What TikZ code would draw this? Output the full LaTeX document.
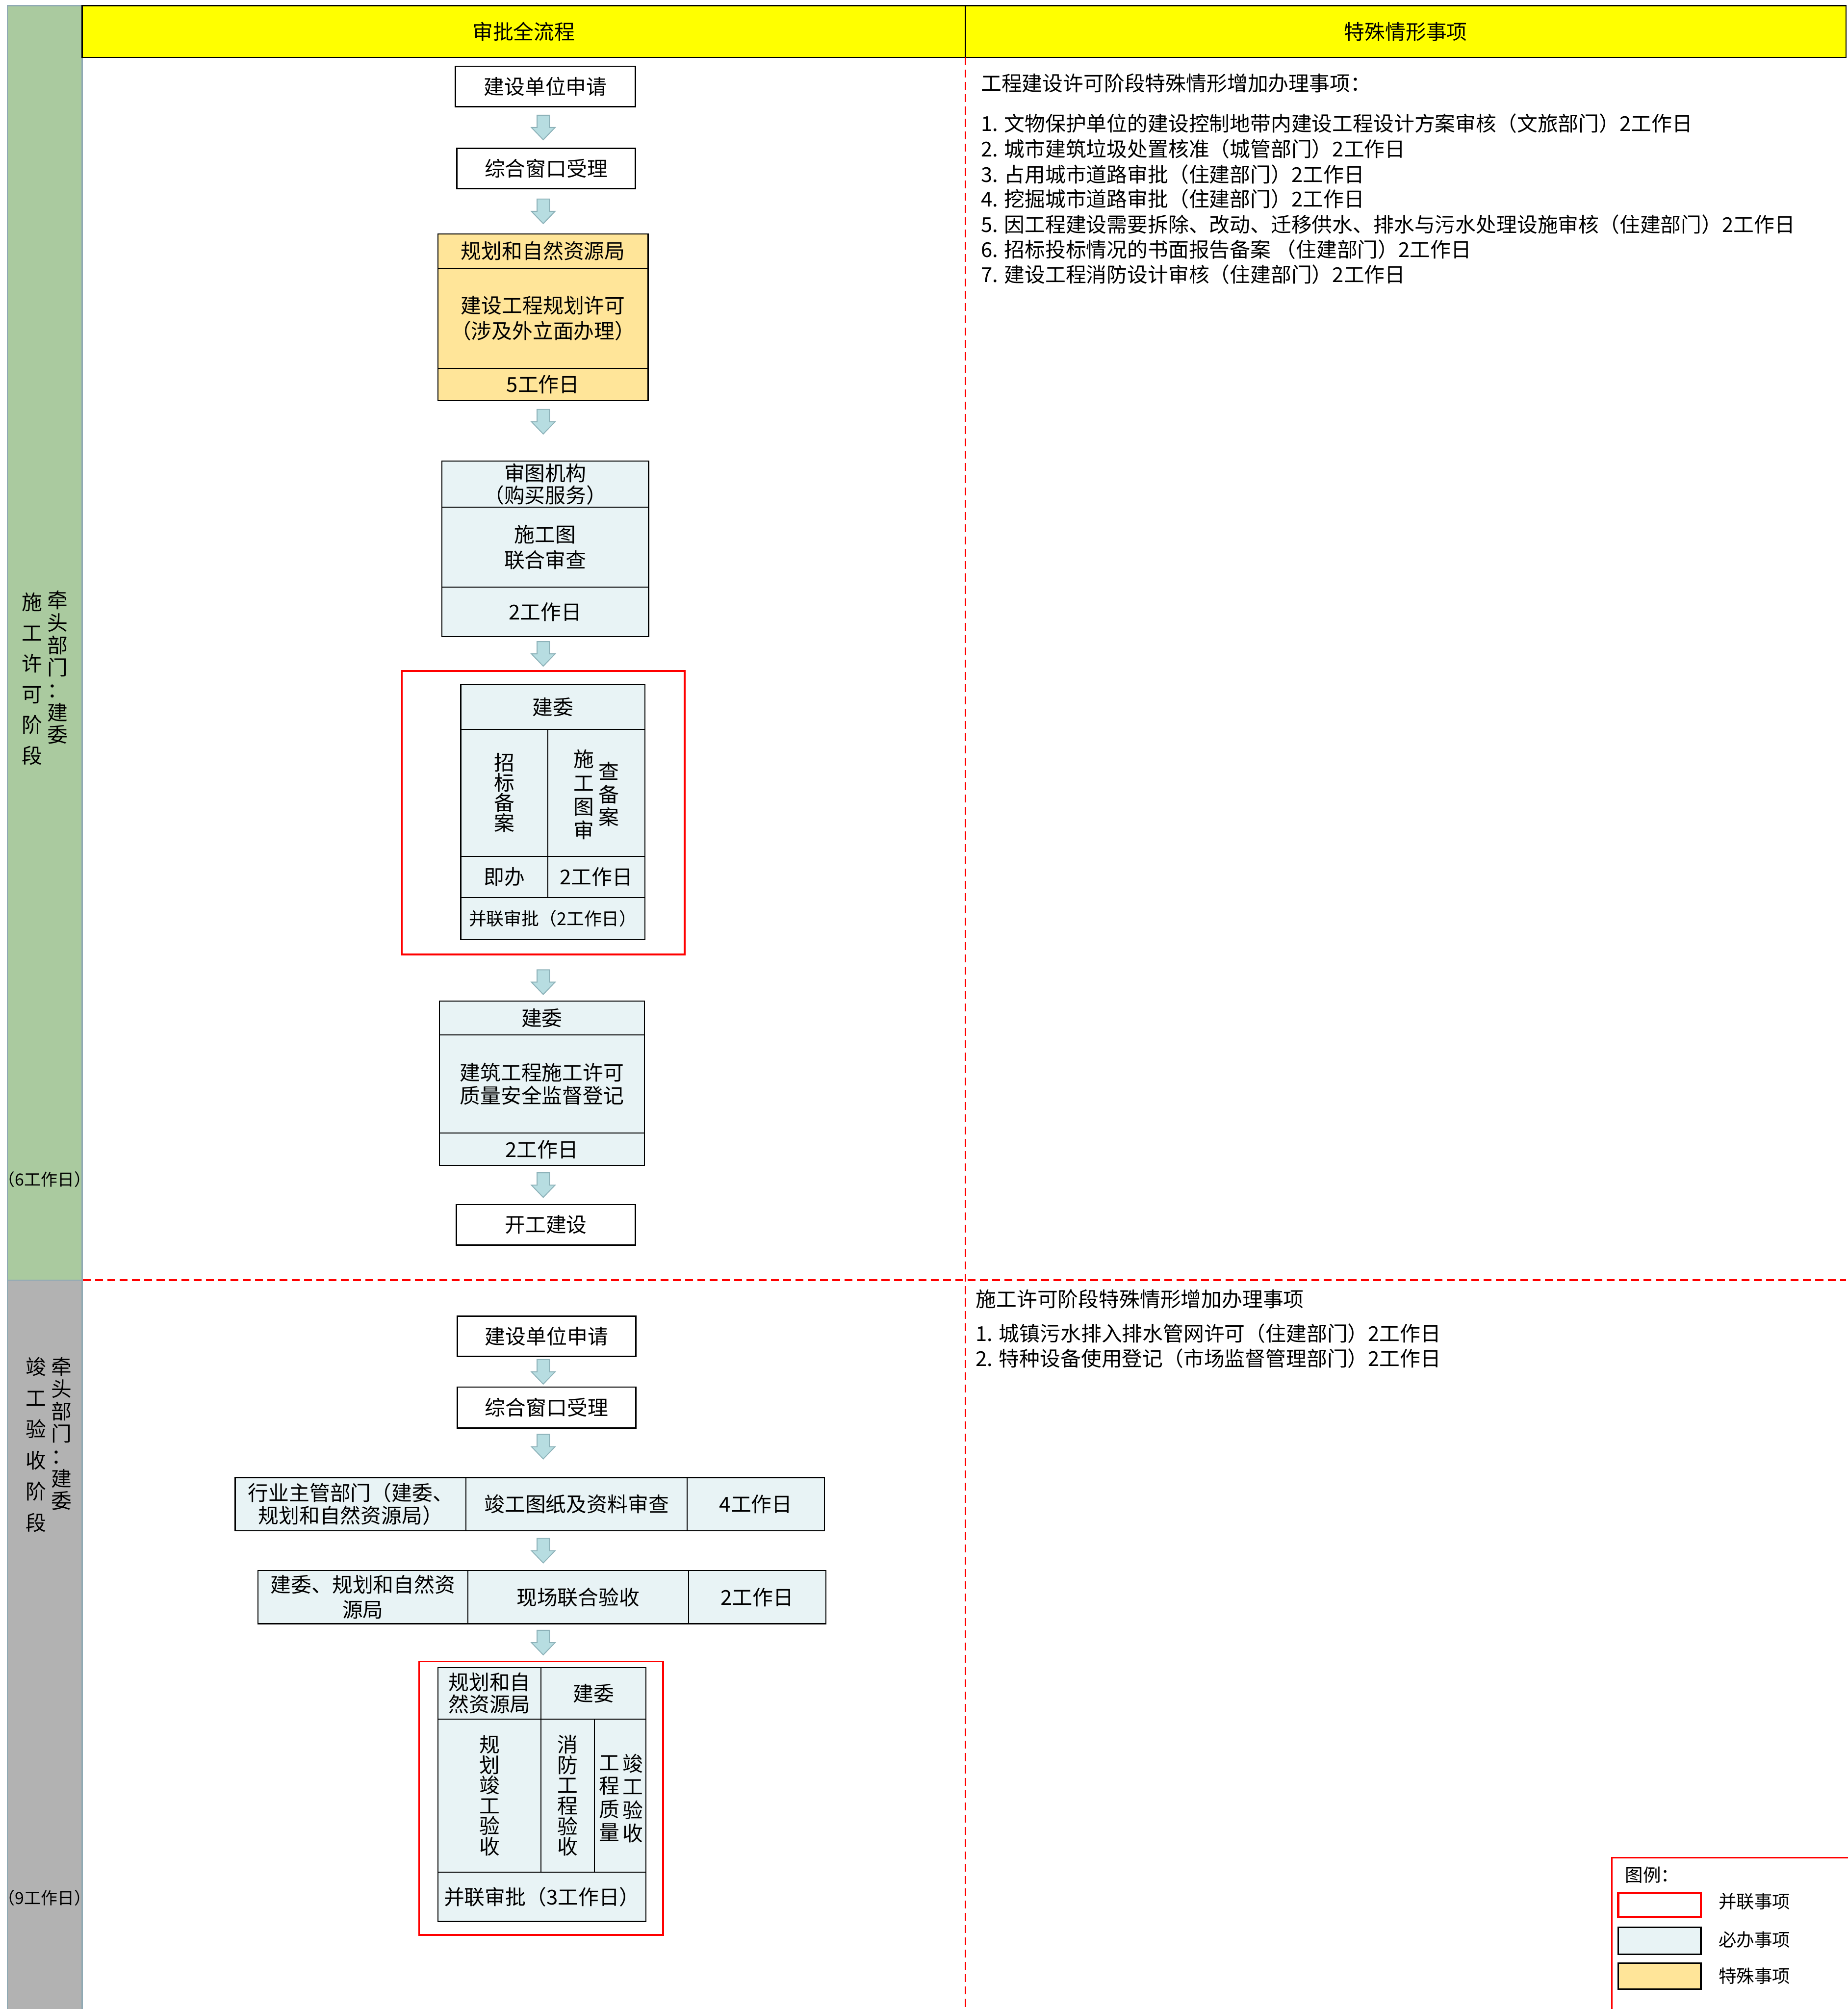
\documentclass[tikz,border=0pt]{standalone}
\usepackage{fontspec}
\setmainfont{Noto Sans CJK SC}
\usetikzlibrary{calc, positioning}

\definecolor{headyellow}{HTML}{FFFF00}
\definecolor{stagegreen}{HTML}{AACA9F}
\definecolor{stagegray}{HTML}{B2B2B2}
\definecolor{laneedge}{HTML}{8FA9B4}
\definecolor{mustblue}{HTML}{E8F3F5}
\definecolor{specialyellow}{HTML}{FFE599}
\definecolor{arrowfill}{HTML}{B7DDE1}
\definecolor{arrowline}{HTML}{8DB2B9}

\newcommand{\cnfont}[2]{\fontsize{#1}{#2}\selectfont\lineskiplimit=-20pt\relax}

\tikzset{
  box/.style={draw, line width=0.8pt, fill=white, inner sep=0pt, outer sep=0pt, align=center, minimum height=0.92cm, font=\cnfont{13.3pt}{16pt}},
  cell/.style={draw, line width=0.7pt, fill=mustblue, inner sep=0pt, outer sep=0pt, align=center, font=\cnfont{13.3pt}{16pt}},
  specialcell/.style={cell, fill=specialyellow},
  vtext/.style={inner sep=0pt, align=center},
  headcell/.style={draw, line width=0.8pt, fill=headyellow, inner sep=0pt, outer sep=0pt, minimum height=1.18cm, anchor=north west, font=\cnfont{13.3pt}{16pt}},
  parallel/.style={draw=red, line width=1.2pt, inner sep=0pt, outer sep=0pt},
  lanesep/.style={red, line width=1.1pt, dash pattern=on 0.18cm off 0.10cm},
  lanetext/.style={inner sep=0pt, align=center},
  note/.style={inner sep=0pt, anchor=west, font=\cnfont{13.3pt}{16pt}},
  flow/.style={fill=arrowfill, draw=arrowline, line width=0.6pt},
  legendtext/.style={inner sep=0pt, anchor=west, font=\cnfont{11.6pt}{14pt}},
}

% block arrow between two nodes, on the flow axis
\newcommand{\flowarrow}[3][0]{%
  \coordinate (gapmid) at ($(#2.south)!0.5!(#3.north)$);
  \coordinate (mid) at ($(axis |- gapmid)+(0,#1)$);
  \draw[flow] ($(mid)+(-0.14,-0.28)$) -- ($(mid)+(0.14,-0.28)$) -- ($(mid)+(0.14,0)$)
    -- ($(mid)+(0.27,0)$) -- ($(mid)+(0,0.28)$) -- ($(mid)+(-0.27,0)$)
    -- ($(mid)+(-0.14,0)$) -- cycle;}

\begin{document}
\begin{tikzpicture}[x=1cm, y=-1cm]
\useasboundingbox (0,0) rectangle (42.11,45.78);
\coordinate (axis) at (12.38,0);

% stage bars
\fill[stagegreen] (0.17,0.13) rectangle (1.87,29.17);
\fill[stagegray] (0.17,29.17) rectangle (1.87,45.78);
\draw[laneedge, line width=0.8pt] (0.17,45.78) -- (0.17,0.13) -- (1.87,0.13) -- (1.87,45.78);
\draw[laneedge, line width=0.8pt] (0.17,29.17) -- (1.87,29.17);

% column heads
\node[headcell, minimum width=20.13cm] (flowhead) at (1.87,0.13) {审批全流程};
\node[headcell, minimum width=20.07cm] (notehead) at (22.00,0.13) {特殊情形事项};
\draw[lanesep] (notehead.south west) -- (22.00,45.78);
\draw[lanesep] (1.89,29.17) -- (42.07,29.17);

% stage labels
\node[lanetext, font=\cnfont{13.3pt}{0.70cm}] (stageone) at (0.73,15.47) {施\\工\\许\\可\\阶\\段};
\node[lanetext, font=\cnfont{13.3pt}{0.51cm}] (leadone) at (1.31,15.21) {牵\\头\\部\\门\\：\\建\\委};
\node[lanetext, font=\cnfont{10.8pt}{12pt}] (daysone) at (1.02,26.88) {（6工作日）};
\node[lanetext, font=\cnfont{13.3pt}{0.71cm}] (stagetwo) at (0.82,32.92) {竣\\工\\验\\收\\阶\\段};
\node[lanetext, font=\cnfont{13.3pt}{0.51cm}] (leadtwo) at (1.40,32.67) {牵\\头\\部\\门\\：\\建\\委};
\node[lanetext, font=\cnfont{10.8pt}{12pt}] (daystwo) at (1.02,43.25) {（9工作日）};

% construction permit stage
\node[box, minimum width=4.10cm] (applyone) at (12.43,1.97) {建设单位申请};
\node[box, minimum width=4.07cm] (acceptone) at (12.445,3.84) {综合窗口受理};

\node[specialcell, minimum width=4.79cm, minimum height=0.78cm, anchor=north] (planorg) at (12.375,5.33) {规划和自然资源局};
\node[specialcell, minimum width=4.79cm, minimum height=2.28cm, below=0pt of planorg, font=\cnfont{13.3pt}{16.4pt}] (planitem) {建设工程规划许可\\（涉及外立面办理）};
\node[specialcell, minimum width=4.79cm, minimum height=0.74cm, below=0pt of planitem] (plandays) {5工作日};

\node[cell, minimum width=4.71cm, minimum height=1.05cm, anchor=north, font=\cnfont{13.3pt}{14.5pt}] (revorg) at (12.425,10.51) {审图机构\\（购买服务）};
\node[cell, minimum width=4.71cm, minimum height=1.82cm, below=0pt of revorg, font=\cnfont{13.3pt}{16.4pt}] (revitem) {施工图\\联合审查};
\node[cell, minimum width=4.71cm, minimum height=1.13cm, below=0pt of revitem] (revdays) {2工作日};

\node[parallel, minimum width=6.44cm, minimum height=6.46cm] (parone) at (12.38,18.52) {};
\node[cell, minimum width=4.20cm, minimum height=1.02cm, anchor=north] (jwone) at (12.60,15.60) {建委};
\node[cell, minimum width=1.98cm, minimum height=2.89cm, anchor=north west, font=\cnfont{13.3pt}{0.46cm}] (tender) at (jwone.south west) {招\\标\\备\\案};
\node[cell, minimum width=2.22cm, minimum height=2.89cm, anchor=north west] (drawing) at (tender.north east) {};
\node[vtext, font=\cnfont{13.3pt}{0.54cm}] (drawtxt) at (13.30,18.11) {施\\工\\图\\审};
\node[vtext, font=\cnfont{13.3pt}{0.52cm}] (filetxt) at (13.88,18.10) {查\\备\\案};
\node[cell, minimum width=1.98cm, minimum height=0.945cm, anchor=north west] (instant) at (tender.south west) {即办};
\node[cell, minimum width=2.22cm, minimum height=0.945cm, anchor=north west] (drawdays) at (instant.north east) {2工作日};
\node[cell, minimum width=4.20cm, minimum height=0.955cm, anchor=north west, font=\cnfont{11.4pt}{13pt}] (jointone) at (instant.south west) {并联审批（2工作日）};

\node[cell, minimum width=4.68cm, minimum height=0.77cm, anchor=north] (permitorg) at (12.35,22.81) {建委};
\node[cell, minimum width=4.68cm, minimum height=2.24cm, below=0pt of permitorg, font=\cnfont{13.3pt}{14.8pt}] (permititem) {建筑工程施工许可\\质量安全监督登记};
\node[cell, minimum width=4.68cm, minimum height=0.74cm, below=0pt of permititem] (permitdays) {2工作日};
\node[box, minimum width=4.08cm] (start) at (12.44,27.91) {开工建设};

\flowarrow{applyone}{acceptone}
\flowarrow{acceptone}{planorg}
\flowarrow[-0.21]{plandays}{revorg}
\flowarrow{revdays}{parone}
\flowarrow[0.1]{parone}{permitorg}
\flowarrow{permitdays}{start}

% completion acceptance stage
\node[box, minimum width=4.07cm] (applytwo) at (12.455,30.45) {建设单位申请};
\node[box, minimum width=4.07cm, minimum height=0.93cm] (accepttwo) at (12.455,32.075) {综合窗口受理};

\node[cell, minimum width=5.26cm, minimum height=1.21cm, anchor=north west, font=\cnfont{13.3pt}{14.8pt}] (orgone) at (5.36,33.67) {行业主管部门（建委、\\规划和自然资源局）};
\node[cell, minimum width=5.04cm, minimum height=1.21cm, anchor=north west] (drawcheck) at (orgone.north east) {竣工图纸及资料审查};
\node[cell, minimum width=3.13cm, minimum height=1.21cm, anchor=north west] (checkdays) at (drawcheck.north east) {4工作日};

\node[cell, minimum width=4.78cm, minimum height=1.21cm, anchor=north west, font=\cnfont{13.3pt}{16.2pt}] (orgtwo) at (5.88,35.79) {建委、规划和自然资\\源局};
\node[cell, minimum width=5.03cm, minimum height=1.21cm, anchor=north west] (sitecheck) at (orgtwo.north east) {现场联合验收};
\node[cell, minimum width=3.13cm, minimum height=1.21cm, anchor=north west] (sitedays) at (sitecheck.north east) {2工作日};

\node[parallel, minimum width=5.56cm, minimum height=6.23cm] (partwo) at (12.33,40.975) {};
\node[cell, minimum width=2.35cm, minimum height=1.17cm, anchor=north west, font=\cnfont{13.3pt}{14.5pt}] (planorgtwo) at (9.98,38.00) {规划和自\\然资源局};
\node[cell, minimum width=2.39cm, minimum height=1.17cm, anchor=north west] (jwtwo) at (planorgtwo.north east) {建委};
\node[cell, minimum width=2.35cm, minimum height=3.49cm, anchor=north west, font=\cnfont{13.3pt}{0.465cm}] (plancheck) at (planorgtwo.south west) {规\\划\\竣\\工\\验\\收};
\node[cell, minimum width=1.215cm, minimum height=3.49cm, anchor=north west, font=\cnfont{13.3pt}{0.465cm}] (firecheck) at (plancheck.north east) {消\\防\\工\\程\\验\\收};
\node[cell, minimum width=1.175cm, minimum height=3.49cm, anchor=north west] (qualcheck) at (firecheck.north east) {};
\node[vtext, font=\cnfont{13.3pt}{0.53cm}] (qualtxt) at (13.89,40.98) {工\\程\\质\\量};
\node[vtext, font=\cnfont{13.3pt}{0.53cm}] (finaltxt) at (14.42,40.98) {竣\\工\\验\\收};
\node[cell, minimum width=4.74cm, minimum height=1.125cm, anchor=north west] (jointtwo) at (plancheck.south west) {并联审批（3工作日）};

\flowarrow{applytwo}{accepttwo}
\flowarrow[-0.14]{accepttwo}{drawcheck}
\flowarrow{drawcheck}{sitecheck}
\flowarrow{sitecheck}{partwo}

% special cases
\node[note] (noteone) at (22.35,1.90) {工程建设许可阶段特殊情形增加办理事项：};
\node[note] (itemone) at (22.35,2.81) {1. 文物保护单位的建设控制地带内建设工程设计方案审核（文旅部门）2工作日};
\node[note] (itemtwo) at (22.35,3.39) {2. 城市建筑垃圾处置核准（城管部门）2工作日};
\node[note] (itemthree) at (22.35,3.97) {3. 占用城市道路审批（住建部门）2工作日};
\node[note] (itemfour) at (22.35,4.53) {4. 挖掘城市道路审批（住建部门）2工作日};
\node[note] (itemfive) at (22.35,5.11) {5. 因工程建设需要拆除、改动、迁移供水、排水与污水处理设施审核（住建部门）2工作日};
\node[note] (itemsix) at (22.35,5.69) {6. 招标投标情况的书面报告备案 （住建部门）2工作日};
\node[note] (itemseven) at (22.35,6.25) {7. 建设工程消防设计审核（住建部门）2工作日};

\node[note] (notetwo) at (22.23,29.60) {施工许可阶段特殊情形增加办理事项};
\node[note] (itemeight) at (22.23,30.38) {1. 城镇污水排入排水管网许可（住建部门）2工作日};
\node[note] (itemnine) at (22.23,30.95) {2. 特种设备使用登记（市场监督管理部门）2工作日};

% legend
\draw[red, line width=0.8pt] (36.73,45.78) |- (42.11,42.33);
\node[legendtext] (legendtitle) at (37.03,42.73) {图例：};
\node[draw=red, line width=1.5pt, minimum width=1.88cm, minimum height=0.55cm, inner sep=0pt] (keypar) at (37.82,43.405) {};
\node[draw, line width=1pt, fill=mustblue, minimum width=1.88cm, minimum height=0.61cm, inner sep=0pt] (keymust) at (37.82,44.225) {};
\node[draw, line width=1pt, fill=specialyellow, minimum width=1.88cm, minimum height=0.60cm, inner sep=0pt] (keyspecial) at (37.82,45.03) {};
\node[legendtext] (keypartxt) at (39.16,43.33) {并联事项};
\node[legendtext] (keymusttxt) at (39.16,44.20) {必办事项};
\node[legendtext] (keyspecialtxt) at (39.16,45.03) {特殊事项};
\end{tikzpicture}
\end{document}
